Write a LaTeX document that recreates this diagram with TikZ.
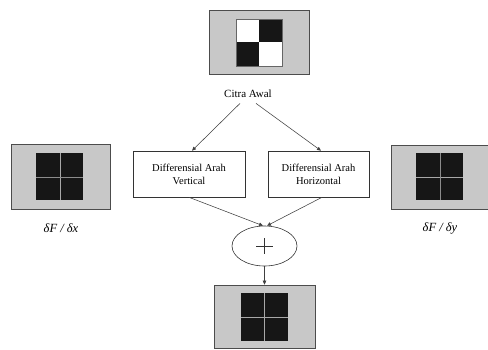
\documentclass[tikz,border=0pt]{standalone}
\usepackage{fontspec}
\setmainfont{Liberation Serif}
\usetikzlibrary{arrows.meta,shapes.geometric}
\definecolor{panel}{HTML}{C8C8C8}
\definecolor{ink}{HTML}{161616}
\definecolor{divline}{HTML}{A8A8A8}
\tikzset{
  panelbox/.style={draw=black!70, line width=0.6pt, fill=panel, inner sep=0pt},
  conn/.style={draw=black!75, line width=0.55pt, -{Triangle[length=4pt,width=3.5pt]}},
  procbox/.style={draw=black!80, line width=0.6pt, fill=white, minimum width=112pt, minimum height=46pt, align=center, font=\fontsize{10.5}{13}\selectfont, inner sep=1pt},
  lbl/.style={font=\fontsize{12.5}{14}\selectfont\itshape}
}
\begin{document}
\begin{tikzpicture}[x=1pt,y=-1pt]
\useasboundingbox (0,0) rectangle (488,349);
% top image
\node[panelbox, minimum width=100pt, minimum height=64pt] (topimg) at (259,42) {};
\fill[white] (236,19) rectangle (259,42);
\fill[ink] (259,19) rectangle (282,42);
\fill[ink] (236,42) rectangle (259,66);
\fill[white] (259,42) rectangle (282,66);
\draw[black!60, line width=0.4pt] (236,19) rectangle (282,66);
\node[font=\fontsize{11}{13}\selectfont] (citra) at (248,94) {Citra Awal};
% left image
\node[panelbox, minimum width=99pt, minimum height=65pt] (leftimg) at (60.5,176.5) {};
\fill[ink] (36,153) rectangle (83,200);
\draw[divline, line width=0.9pt] (60,153) -- (60,200);
\draw[black!45, line width=0.4pt] (36,177) -- (83,177);
\node[lbl] (dx) at (61,228) {δF / δx};
% right image
\node[panelbox, minimum width=98pt, minimum height=64pt] (rightimg) at (440,177) {};
\fill[ink] (416,153) rectangle (463,200);
\draw[divline, line width=0.9pt] (416,177) -- (463,177);
\draw[black!45, line width=0.4pt] (440,153) -- (440,200);
\node[lbl] (dy) at (440,228) {δF / δy};
% process boxes
\node[procbox] (vert) at (189,174) {Differensial Arah\\Vertical};
\node[procbox, minimum width=101pt] (hor) at (318.5,174) {Differensial Arah\\Horizontal};
% ellipse
\node[ellipse, draw=black!80, line width=0.6pt, minimum width=65pt, minimum height=40pt] (plus) at (264.5,246) {};
\draw[black!80, line width=0.5pt] (256,246) -- (273,246) (264.5,238) -- (264.5,254);
% bottom image
\node[panelbox, minimum width=101pt, minimum height=63pt] (botimg) at (264.5,316.5) {};
\fill[ink] (241,293) rectangle (288,341);
\draw[divline, line width=0.9pt] (264.5,293) -- (264.5,341);
\draw[divline, line width=0.9pt] (241,317) -- (288,317);
% connector anchor points
\coordinate (cl) at ([xshift=-8pt,yshift=-2pt]citra.south);
\coordinate (cr) at ([xshift=8pt,yshift=-2pt]citra.south);
\coordinate (vtop) at ([xshift=3pt]vert.north);
\coordinate (htop) at ([xshift=2.5pt]hor.north);
\coordinate (pl) at ([xshift=-1.5pt]plus.north);
\coordinate (pr) at ([xshift=2.5pt]plus.north);
\coordinate (hbot) at ([xshift=3.5pt]hor.south);
% connectors
\draw[conn] (cl) -- (vtop);
\draw[conn] (cr) -- (htop);
\draw[conn] (vert.south) -- (pl);
\draw[conn] (hbot) -- (pr);
\draw[conn] (plus.south) -- (botimg.north);
\end{tikzpicture}
\end{document}
